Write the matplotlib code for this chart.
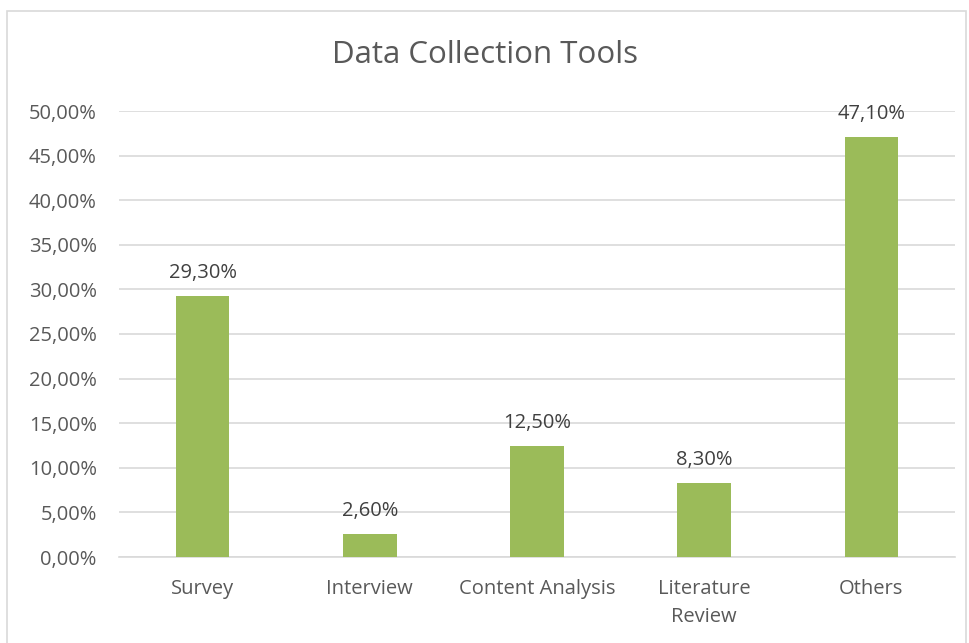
import matplotlib.pyplot as plt
from matplotlib.patches import Rectangle
from matplotlib.ticker import FuncFormatter

categories = ["Survey", "Interview", "Content Analysis", "Literature\nReview", "Others"]
values = [29.3, 2.6, 12.5, 8.3, 47.1]
yticks = [0, 5, 10, 15, 20, 25, 30, 35, 40, 45, 50]

plt.rcParams['font.family'] = ['Open Sans', 'DejaVu Sans']

fig = plt.figure(figsize=(9.69, 6.43), dpi=100)
ax = fig.add_axes([119 / 969, 1 - 557 / 643, (955 - 119) / 969, (557 - 111) / 643])

# outer chart frame
fig.patches.append(Rectangle((7 / 969, -0.01), 0.99, 1 - 11 / 643 + 0.01, transform=fig.transFigure,
                             fill=False, edgecolor='#d9d9d9', linewidth=1.2))

x = range(len(categories))
ax.bar(x, values, width=0.32, color='#9bbb59', zorder=3)

for i, v in enumerate(values):
    ax.annotate(f"{v:.2f}%".replace('.', ','), (i, v), xytext=(0, 9), textcoords='offset points',
                ha='center', va='bottom', fontsize=14.5, color='#404040')

ax.set_xlim(-0.5, len(categories) - 0.5)
ax.set_ylim(0, 50)
ax.set_yticks(yticks)
ax.yaxis.set_major_formatter(FuncFormatter(lambda v, p: f"{v:.2f}%".replace('.', ',')))
ax.set_xticks(list(x))
ax.set_xticklabels(categories, linespacing=1.5)

ax.grid(axis='y', color='#d9d9d9', linewidth=1.2, zorder=0)
for s in ['top', 'right', 'left']:
    ax.spines[s].set_visible(False)
ax.spines['bottom'].set_color('#d9d9d9')
ax.spines['bottom'].set_linewidth(1.2)
ax.tick_params(axis='both', length=0, labelsize=14.5, labelcolor='#595959')
ax.tick_params(axis='y', pad=16)
ax.tick_params(axis='x', pad=16)

fig.text(0.5, 1 - 55 / 643, "Data Collection Tools", ha='center', va='center', fontsize=22.5, color='#595959')

fig.savefig('out.png', dpi=100)
